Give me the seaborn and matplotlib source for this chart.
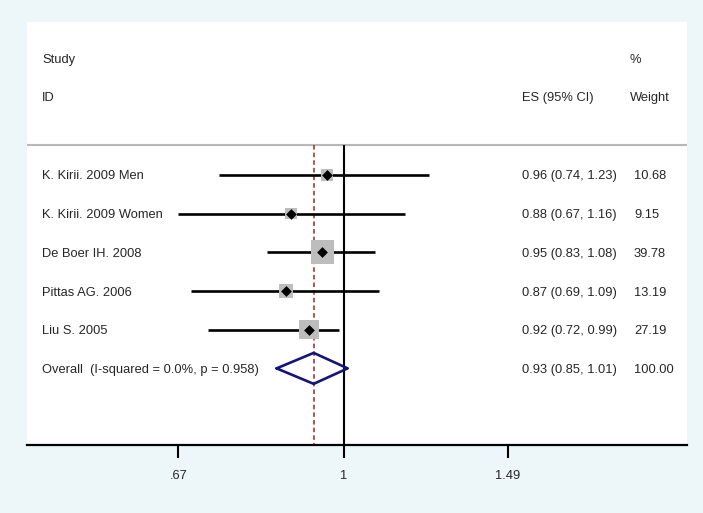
"""
    Forest plot (meta-análisis)
"""
import numpy as np
import pandas as pd
import matplotlib
matplotlib.use('Agg')
import matplotlib.pyplot as plt
import seaborn as sns

# Datos
estudios = ['K. Kirii. 2009 Men', 'K. Kirii. 2009 Women', 'De Boer IH. 2008',
            'Pittas AG. 2006', 'Liu S. 2005']
es = [0.96, 0.88, 0.95, 0.87, 0.92]
ci_low = [0.74, 0.67, 0.83, 0.69, 0.72]
ci_high = [1.23, 1.16, 1.08, 1.09, 0.99]
peso = [10.68, 9.15, 39.78, 13.19, 27.19]

overall_label = 'Overall  (I-squared = 0.0%, p = 0.958)'
overall_es = 0.93
overall_low = 0.85
overall_high = 1.01
overall_peso = 100.00

ticks = [0.67, 1, 1.49]
tick_labels = ['.67', '1', '1.49']

df = pd.DataFrame({'estudio': estudios, 'es': es, 'lo': ci_low, 'hi': ci_high,
                   'peso': peso})
df['fila'] = np.arange(len(df))
fila_overall = len(df)

sns.set_theme(style='white')
plt.rcParams['font.family'] = ['Liberation Sans', 'DejaVu Sans']

bg = '#edf6f9'
fig = plt.figure(figsize=(7.03, 5.13), dpi=100, facecolor=bg)
ax = fig.add_axes([27 / 703, 1 - 445 / 513, 660 / 703, 423 / 513])
ax.set_facecolor('white')
ax.set_xscale('log')
ax.set_xlim(0.464, 2.30)
ax.set_ylim(6.98, -3.95)

# Líneas de referencia
y_top = -0.78
ax.vlines(1, y_top, 6.98, color='black', lw=1.5, zorder=2)
ax.vlines(overall_es, y_top, 6.98, color='#a0262b', lw=1.1,
          linestyles=(0, (3, 2)), zorder=2)
ax.axhline(y_top, color='#b8b8b8', lw=1.5, zorder=1)

# Intervalos de confianza
ax.hlines(df['fila'], df['lo'], df['hi'], color='black', lw=1.9, zorder=3)

# Cuadrados proporcionales al peso
sns.scatterplot(data=df, x='es', y='fila', size='peso', sizes=(9.15 * 7.3, 39.78 * 7.3),
                size_norm=(9.15, 39.78), marker='s', color='#bdbdbd', linewidth=0,
                legend=False, ax=ax, zorder=3)
sns.scatterplot(data=df, x='es', y='fila', marker='D', color='black', s=30,
                linewidth=0, legend=False, ax=ax, zorder=4)

# Diamante global
dx = [overall_low, overall_es, overall_high, overall_es, overall_low]
dy = [fila_overall, fila_overall - 0.4, fila_overall, fila_overall + 0.4, fila_overall]
ax.plot(dx, dy, color='#14147a', lw=1.9, zorder=4)

# Textos
trans = ax.get_yaxis_transform()
fs = 9.3
off = 0.04
x_id = 15 / 660
x_es = 495 / 660
x_w = 607 / 660
x_wh = 603 / 660
ax.text(x_id, -3.0 + off, 'Study', transform=trans, fontsize=fs, va='center')
ax.text(x_id, -2.02 + off, 'ID', transform=trans, fontsize=fs, va='center')
ax.text(x_es, -2.02 + off, 'ES (95% CI)', transform=trans, fontsize=fs, va='center')
ax.text(x_wh, -3.0 + off, '%', transform=trans, fontsize=fs, va='center')
ax.text(x_wh, -2.02 + off, 'Weight', transform=trans, fontsize=fs, va='center')

for _, r in df.iterrows():
    y = r['fila'] + off
    ax.text(x_id, y, r['estudio'], transform=trans, fontsize=fs, va='center')
    ax.text(x_es, y, f"{r['es']:.2f} ({r['lo']:.2f}, {r['hi']:.2f})",
            transform=trans, fontsize=fs, va='center')
    ax.text(x_w, y, f"{r['peso']:.2f}", transform=trans, fontsize=fs, va='center')

y = fila_overall + off
ax.text(x_id, y, overall_label, transform=trans, fontsize=fs, va='center')
ax.text(x_es, y, f'{overall_es:.2f} ({overall_low:.2f}, {overall_high:.2f})',
        transform=trans, fontsize=fs, va='center')
ax.text(x_w, y, f'{overall_peso:.2f}', transform=trans, fontsize=fs, va='center')

# Ejes
for s in ['top', 'left', 'right']:
    ax.spines[s].set_visible(False)
ax.spines['bottom'].set_color('black')
ax.spines['bottom'].set_linewidth(1.6)
ax.set_yticks([])
ax.set_xticks(ticks)
ax.set_xticklabels(tick_labels)
ax.xaxis.set_minor_locator(matplotlib.ticker.NullLocator())
ax.tick_params(axis='x', bottom=True, length=9, width=1.5, color='black',
               labelsize=fs, pad=9)
ax.set_xlabel('')
ax.set_ylabel('')

fig.savefig('out.png', dpi=100, facecolor=bg)
